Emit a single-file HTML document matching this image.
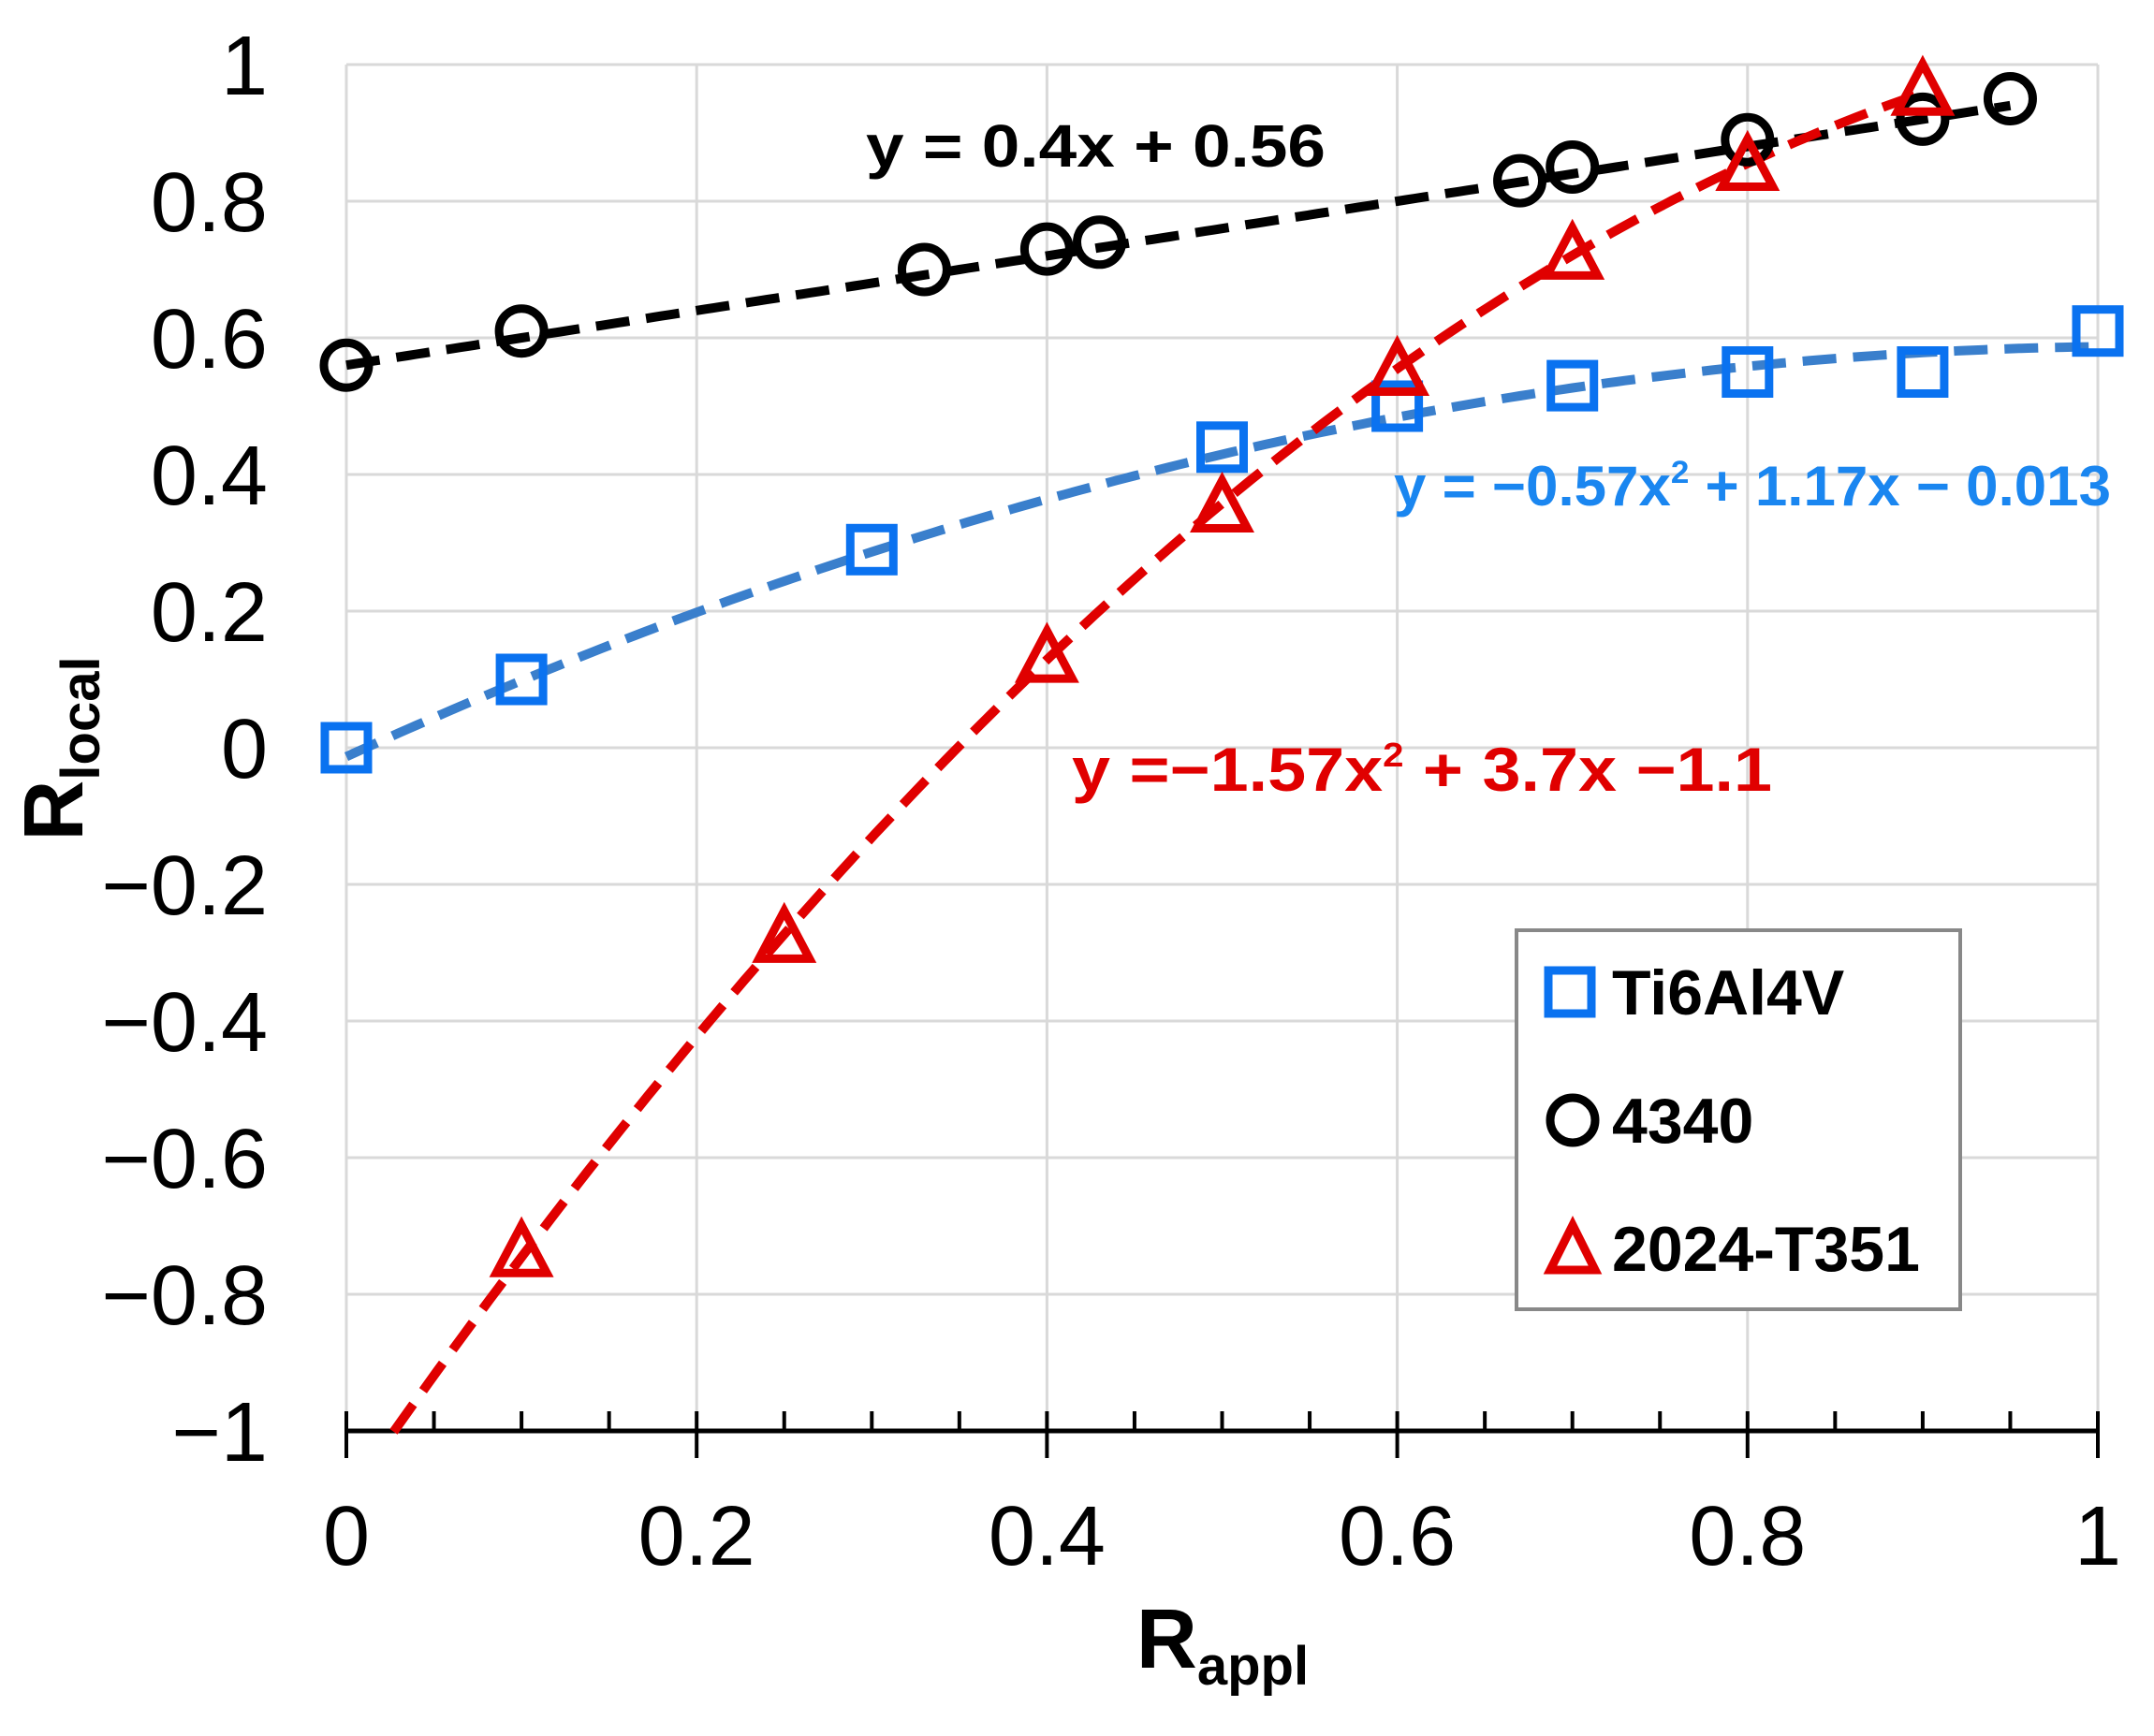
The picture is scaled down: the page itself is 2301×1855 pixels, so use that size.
<!DOCTYPE html>
<html><head><meta charset="utf-8"><style>html,body{margin:0;padding:0;background:#fff}svg{display:block}</style></head>
<body>
<svg id="s" width="2301" height="1855" viewBox="0 0 2301 1855" xmlns="http://www.w3.org/2000/svg" font-family="Liberation Sans, Arial, sans-serif">
<g id="grid" stroke="#d9d9d9" stroke-width="3"></g>
<g id="axes"></g>
<g id="series"></g>
<g id="labels"></g>
<text x="925" y="178" font-size="64" font-weight="bold" fill="#000" textLength="491" lengthAdjust="spacingAndGlyphs">y = 0.4x + 0.56</text>
<text x="1489" y="540" font-size="60" font-weight="bold" fill="#1a86f0" textLength="766" lengthAdjust="spacingAndGlyphs">y = −0.57x<tspan font-size="34" dy="-24">2</tspan><tspan dy="24"> + 1.17x − 0.013</tspan></text>
<text x="1145" y="845" font-size="66" font-weight="bold" fill="#e00000" textLength="748" lengthAdjust="spacingAndGlyphs">y =−1.57x<tspan font-size="36" dy="-26">2</tspan><tspan dy="26"> + 3.7x −1.1</tspan></text>
<rect x="1620" y="994" width="474" height="405" fill="#fff" stroke="#888" stroke-width="4"/>
<rect x="1654" y="1037" width="46" height="46" fill="none" stroke="#0a72f0" stroke-width="9"/>
<text x="1722" y="1084" font-size="68" font-weight="bold" fill="#000">Ti6Al4V</text>
<circle cx="1680" cy="1197" r="24" fill="none" stroke="#000" stroke-width="9"/>
<text x="1722" y="1221" font-size="68" font-weight="bold" fill="#000">4340</text>
<polygon points="1680,1309 1704,1357 1656,1357" fill="none" stroke="#e00000" stroke-width="9" stroke-linejoin="miter"/>
<text x="1722" y="1358" font-size="68" font-weight="bold" fill="#000">2024-T351</text>
<text transform="translate(88,800) rotate(-90)" font-size="90" font-weight="bold" text-anchor="middle" fill="#000">R<tspan font-size="58" dy="18">local</tspan></text>
<text x="1306" y="1782" font-size="90" font-weight="bold" text-anchor="middle" fill="#000">R<tspan font-size="58" dy="18">appl</tspan></text>
</svg>
<script>
const NS="http://www.w3.org/2000/svg";
const X=x=>370+x*1871, Y=y=>1529-(y+1)*730;
function el(p,t,a,txt){const e=document.createElementNS(NS,t);for(const k in a)e.setAttribute(k,a[k]);if(txt!=null)e.textContent=txt;document.getElementById(p).appendChild(e);return e;}
for(let i=0;i<=5;i++){el("grid","line",{x1:X(i*0.2),x2:X(i*0.2),y1:Y(1),y2:Y(-1)});}
for(let i=0;i<=10;i++){const y=-1+i*0.2;el("grid","line",{x1:X(0),x2:X(1),y1:Y(y),y2:Y(y)});}
el("axes","line",{x1:X(0)-2,x2:X(1)+2,y1:1529,y2:1529,stroke:"#000","stroke-width":5});
for(let i=0;i<=20;i++){const x=X(i*0.05);const maj=i%4==0;el("axes","line",{x1:x,x2:x,y1:1508,y2:maj?1558:1529,stroke:"#000","stroke-width":4});}
const yl=["−1","−0.8","−0.6","−0.4","−0.2","0","0.2","0.4","0.6","0.8","1"];
yl.forEach((t,i)=>el("labels","text",{x:286,y:Y(-1+i*0.2)+32,"font-size":90,"text-anchor":"end",fill:"#000"},t));
["0","0.2","0.4","0.6","0.8","1"].forEach((t,i)=>el("labels","text",{x:X(i*0.2),y:1672,"font-size":90,"text-anchor":"middle",fill:"#000"},t));
function curve(f,a,b,col){let p=[];for(let x=a;x<=b+1e-9;x+=0.005){p.push(X(x).toFixed(1)+","+Y(f(x)).toFixed(1));}
el("series","polyline",{points:p.join(" "),fill:"none",stroke:col,"stroke-width":10,"stroke-dasharray":"36 18"});}
curve(x=>0.4*x+0.56,0,0.95,"#000");
curve(x=>-0.57*x*x+1.17*x-0.013,0,1,"#3a7fcc");
curve(x=>-1.57*x*x+3.7*x-1.1,0.027,0.9,"#e00000");
const ti=[[0,0],[0.1,0.1],[0.3,0.29],[0.5,0.44],[0.6,0.5],[0.7,0.53],[0.8,0.55],[0.9,0.55],[1,0.61]];
ti.forEach(([x,y])=>el("series","rect",{x:X(x)-23,y:Y(y)-23,width:46,height:46,fill:"none",stroke:"#0a72f0","stroke-width":9}));
const c=[[0,0.56],[0.1,0.61],[0.33,0.7],[0.4,0.73],[0.43,0.74],[0.67,0.83],[0.7,0.85],[0.8,0.89],[0.9,0.92],[0.95,0.95]];
c.forEach(([x,y])=>el("series","circle",{cx:X(x),cy:Y(y),r:24,fill:"none",stroke:"#000","stroke-width":9}));
const t=[[0.1,-0.74],[0.25,-0.28],[0.4,0.13],[0.5,0.35],[0.6,0.55],[0.7,0.72],[0.8,0.85],[0.9,0.96]];
t.forEach(([x,y])=>{const cx=X(x),cy=Y(y);el("series","polygon",{points:`${cx},${cy-30} ${cx+27},${cy+21} ${cx-27},${cy+21}`,fill:"none",stroke:"#e00000","stroke-width":9});});
</script>
</body></html>
